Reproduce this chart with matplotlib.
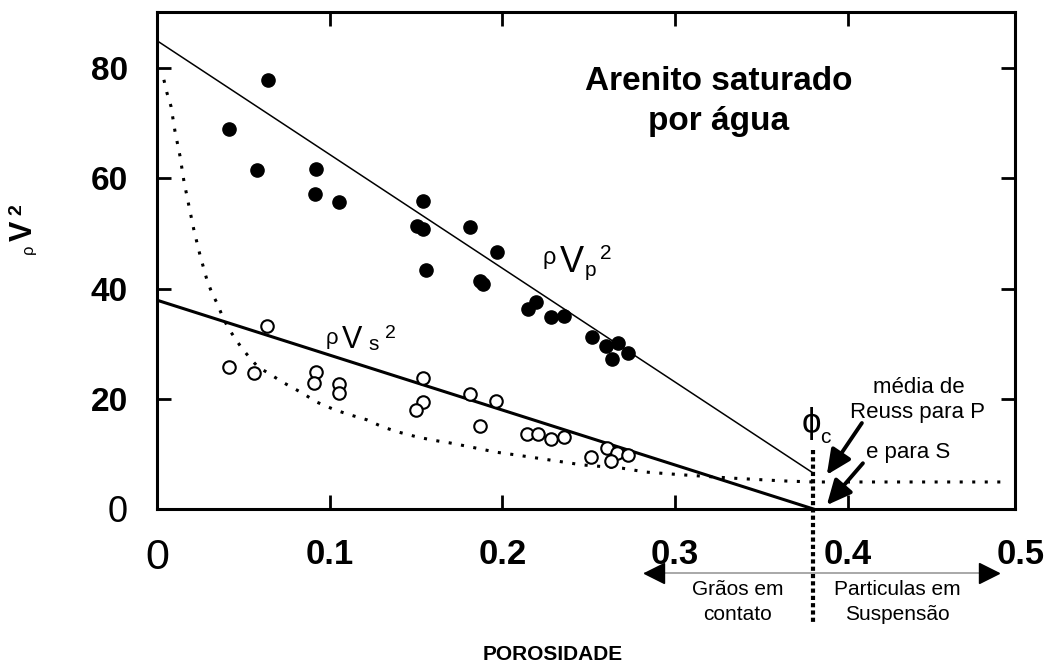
import matplotlib

matplotlib.use("Agg")
import matplotlib.pyplot as plt

plt.rcParams['font.family'] = ['Liberation Sans', 'DejaVu Sans']

# pontos medidos (saturado por água)
phi_vp = [0.0642, 0.0416, 0.0578, 0.0919, 0.0913, 0.1052, 0.1538, 0.1503, 0.1538,
          0.1815, 0.1971, 0.1555, 0.1873, 0.1890, 0.2150, 0.2197, 0.2283, 0.2358,
          0.2520, 0.2600, 0.2670, 0.2636, 0.2728]
rhovp2 = [77.9, 69.0, 61.5, 61.7, 57.2, 55.7, 55.9, 51.4, 50.8,
          51.2, 46.6, 43.4, 41.4, 40.8, 36.3, 37.6, 34.8, 35.0,
          31.2, 29.6, 30.1, 27.2, 28.3]

phi_vs = [0.0636, 0.0416, 0.0561, 0.0919, 0.0908, 0.1052, 0.1052, 0.1538, 0.1538,
          0.1497, 0.1815, 0.1965, 0.1873, 0.2145, 0.2208, 0.2283, 0.2358, 0.2514,
          0.2607, 0.2665, 0.2728, 0.2630]
rhovs2 = [33.2, 25.8, 24.7, 24.9, 22.9, 22.7, 21.1, 23.8, 19.4,
          18.0, 20.9, 19.6, 15.1, 13.6, 13.6, 12.7, 13.1, 9.4,
          11.1, 10.2, 9.8, 8.7]

# média de Reuss (curva pontilhada)
reuss_phi = [0.004, 0.0058, 0.0081, 0.0104, 0.0133, 0.0156, 0.0185, 0.0214, 0.0249,
             0.0289, 0.0318, 0.0347, 0.0376, 0.0410, 0.0451, 0.0491, 0.0538, 0.0584,
             0.0653, 0.0728, 0.0838, 0.0925, 0.1029, 0.1116, 0.1214, 0.1306, 0.1393,
             0.1503, 0.1595, 0.1694, 0.1809, 0.1965, 0.2081, 0.2272, 0.2462, 0.2694,
             0.283, 0.304, 0.333, 0.362, 0.38, 0.491]
reuss_m = [77.9, 75.5, 73.1, 68.6, 64.1, 59.5, 55.0, 50.6, 46.1,
           41.6, 39.2, 37.4, 35.2, 33.0, 31.0, 29.2, 27.4, 25.8,
           24.5, 23.0, 21.1, 19.4, 18.0, 17.1, 16.2, 14.9, 14.0,
           13.1, 12.5, 12.0, 11.3, 10.3, 9.8, 8.9, 8.0, 7.4,
           6.7, 6.2, 5.6, 5.1, 4.9, 4.9]

phi_c = 0.38
vp_line_phi = [0.0, phi_c]
vp_line_m = [85.0, 6.5]
vs_line_phi = [0.0, phi_c]
vs_line_m = [37.9, 0.0]

x_ticks = [0, 0.1, 0.2, 0.3, 0.4]
x_labels = ['0', '0.1', '0.2', '0.3', '0.4']
y_ticks = [0, 20, 40, 60, 80]
y_labels = ['0', '20', '40', '60', '80']

fig = plt.figure(figsize=(10.55, 6.69), dpi=100)
ax = fig.add_axes([0.1488, 0.2392, 0.8132, 0.7428])

ax.plot(vp_line_phi, vp_line_m, color='black', lw=1.1)
ax.plot(vs_line_phi, vs_line_m, color='black', lw=2.2)
ax.plot(reuss_phi, reuss_m, color='black', lw=2.2, linestyle=(0, (1, 3.1)))
ax.plot(phi_vp, rhovp2, 'o', color='black', ms=9.5)
ax.plot(phi_vs, rhovs2, 'o', mfc='white', mec='black', mew=1.5, ms=9)

# linha vertical em phi_c
ax.plot([phi_c, phi_c], [10.7, -20.7], color='black', lw=3,
        linestyle=(0, (1, 0.75)), clip_on=False)

ax.set_xlim(0, 0.4967)
ax.set_ylim(0, 90.2)
ax.set_xticks(x_ticks)
ax.set_xticklabels(x_labels, fontsize=25, fontweight='bold')
ax.set_yticks(y_ticks)
ax.set_yticklabels(y_labels, fontsize=24, fontweight='bold')
ax.tick_params(direction='in', length=10, width=2, top=True, right=True, pad=21)
ax.get_xticklabels()[0].set_fontweight('normal')
ax.get_xticklabels()[0].set_fontsize(31)
ax.get_yticklabels()[0].set_fontweight('normal')
ax.get_yticklabels()[0].set_fontsize(26)
for s in ax.spines.values():
    s.set_linewidth(2.2)

ax.annotate('0.5', xy=(0.5, 0), xycoords=ax.get_xaxis_transform(), xytext=(0, -29),
            textcoords='offset pixels', ha='center', va='top', fontsize=25,
            fontweight='bold', annotation_clip=False)

ax.text(0.3253, 74.0, 'Arenito saturado\npor água', ha='center', va='center',
        fontsize=24, fontweight='bold', linespacing=1.38)

# rótulos rhoV^2
ax.text(0.2269, 45.5, 'ρ', fontsize=17, ha='center', va='center')
ax.text(0.2402, 44.8, 'V', fontsize=26, ha='center', va='center')
ax.text(0.2512, 43.2, 'p', fontsize=15, ha='center', va='center')
ax.text(0.2599, 46.3, '2', fontsize=15, ha='center', va='center')
ax.text(0.1013, 30.9, 'ρ', fontsize=16, ha='center', va='center')
ax.text(0.1129, 30.7, 'V', fontsize=22, ha='center', va='center')
ax.text(0.1256, 29.8, 's', fontsize=15, ha='center', va='center')
ax.text(0.1349, 31.8, '2', fontsize=14, ha='center', va='center')

ax.text(0.3788, 15.6, 'ϕ', fontsize=25, ha='center', va='center')
ax.text(0.3868, 13.0, 'c', fontsize=15, ha='center', va='center')

ax.text(0.4411, 22.1, 'média de', fontsize=16, ha='center', va='center')
ax.text(0.4405, 17.6, 'Reuss para P', fontsize=16, ha='center', va='center')
ax.text(0.4347, 10.2, 'e para S', fontsize=16, ha='center', va='center')
arrow = dict(arrowstyle='-|>,head_length=0.75,head_width=0.35', lw=2.8, color='black',
             mutation_scale=20, shrinkA=0, shrinkB=0)
ax.annotate('', xy=(0.3878, 6.2), xytext=(0.4081, 15.6), arrowprops=arrow)
ax.annotate('', xy=(0.3878, 0.7), xytext=(0.4087, 8.3), arrowprops=arrow)

# seta dupla abaixo do eixo x
ax.plot([0.2825, 0.4868], [-11.6, -11.6], color='#999999', lw=1.2, clip_on=False)
ax.plot([0.2875], [-11.6], marker='<', color='black', ms=15, clip_on=False)
ax.plot([0.4818], [-11.6], marker='>', color='black', ms=15, clip_on=False)
narrow = ['Liberation Sans Narrow', 'Liberation Sans', 'DejaVu Sans']
ax.text(0.3363, -14.7, 'Grãos em', fontsize=15, family=narrow, ha='center', va='center', clip_on=False)
ax.text(0.3363, -19.2, 'contato', fontsize=15, family=narrow, ha='center', va='center', clip_on=False)
ax.text(0.4284, -14.7, 'Particulas em', fontsize=15, family=narrow, ha='center', va='center', clip_on=False)
ax.text(0.4284, -19.2, 'Suspensão', fontsize=15, family=narrow, ha='center', va='center', clip_on=False)
ax.text(0.2292, -26.5, 'POROSIDADE', fontsize=15, family=narrow, fontweight='bold',
        ha='center', va='center', clip_on=False)

# rótulo do eixo y
fig.text(28 / 1055, 1 - 249 / 669, 'ρ', fontsize=12, rotation=90, ha='center', va='center')
fig.text(24 / 1055, 1 - 231 / 669, 'V', fontsize=22, fontweight='bold', rotation=90,
         ha='center', va='center')
fig.text(17 / 1055, 1 - 210 / 669, '2', fontsize=14, fontweight='bold', rotation=90,
         ha='center', va='center')

fig.savefig('out.png', dpi=100)
